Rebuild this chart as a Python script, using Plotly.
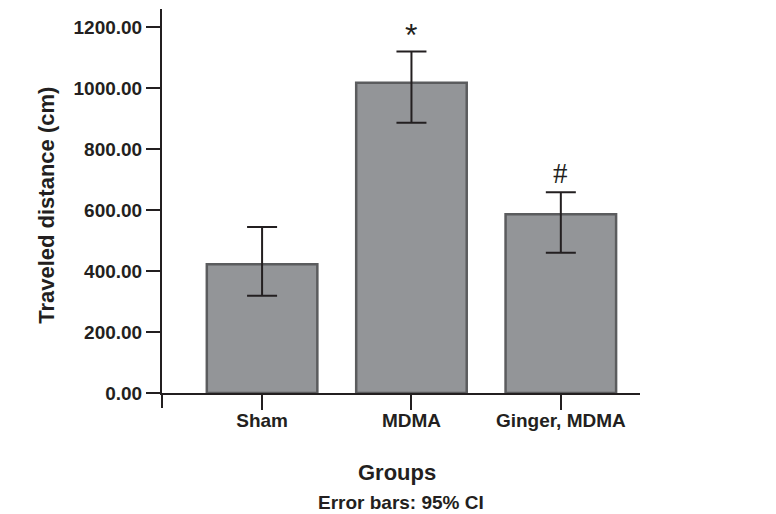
import plotly.graph_objects as go

groups = ["Sham", "MDMA", "Ginger, MDMA"]
means = [422, 1017, 586]
ci_upper = [544, 1120, 658]
ci_lower = [319, 886, 460]
marks = ["", "*", "#"]
y_ticks = [0, 200, 400, 600, 800, 1000, 1200]
y_tick_labels = ["%.2f" % v for v in y_ticks]

err_plus = [u - m for u, m in zip(ci_upper, means)]
err_minus = [m - l for m, l in zip(means, ci_lower)]

ink = "#231f20"
font = "Liberation Sans, Arial, sans-serif"
serif = "Liberation Serif, Times New Roman, serif"

fig = go.Figure()
fig.add_trace(go.Bar(
    x=groups, y=means,
    marker=dict(color="#939598", line=dict(color="#5b5c5e", width=2.5)),
    width=0.74,
    error_y=dict(type="data", symmetric=False, array=err_plus, arrayminus=err_minus,
                 color=ink, thickness=2, width=15),
    hoverinfo="skip",
))

for g, m, u in zip(groups, marks, ci_upper):
    if m:
        fig.add_annotation(x=g, y=u, text=m, showarrow=False, yanchor="bottom",
                           yshift=-4 if m == "*" else 1,
                           font=dict(family=font if m == "*" else serif,
                                     size=32 if m == "*" else 29, color=ink))

# y-axis line extension below zero
fig.add_shape(type="line", xref="paper", yref="paper", x0=0, x1=0, y0=0, y1=-0.039,
              line=dict(color=ink, width=2))

fig.add_annotation(xref="paper", yref="paper", x=-0.2406, y=0.49, xanchor="center", yanchor="middle",
                   text="<b>Traveled distance (cm)</b>",
                   textangle=-90, showarrow=False, font=dict(family=font, size=22, color=ink))
fig.add_annotation(xref="paper", yref="paper", x=0.5, y=-0.208, xanchor="center", yanchor="middle",
                   xshift=-4, text="<b>Groups</b>", showarrow=False, font=dict(family=font, size=22, color=ink))
fig.add_annotation(xref="paper", yref="paper", x=0.5, y=-0.284, xanchor="center", yanchor="middle",
                   xshift=0, text="<b>Error bars: 95% CI</b>", showarrow=False, font=dict(family=font, size=19, color=ink))

fig.update_layout(
    width=776, height=514,
    margin=dict(l=162, r=136, t=9, b=121),
    plot_bgcolor="white", paper_bgcolor="white",
    showlegend=False,
    font=dict(family=font, color=ink),
    xaxis=dict(type="category", range=[-0.67, 2.53], showline=True, linecolor=ink, linewidth=2,
               ticks="outside", ticklen=15, tickwidth=2, tickcolor=ink, showgrid=False, zeroline=False,
               tickfont=dict(family=font, size=19, color=ink), ticklabelstandoff=-6,
               tickvals=groups, ticktext=["<b>%s</b>" % g for g in groups]),
    yaxis=dict(range=[0, 1259], showline=True, linecolor=ink, linewidth=2,
               ticks="outside", ticklen=14, tickwidth=2, tickcolor=ink, showgrid=False, zeroline=False,
               tickvals=y_ticks, ticktext=["<b>%s</b>" % t for t in y_tick_labels],
               tickfont=dict(family=font, size=19, color=ink)),
)

fig.write_html("out.html", config={"displayModeBar": False},
               post_script="document.body.style.margin='0';")
